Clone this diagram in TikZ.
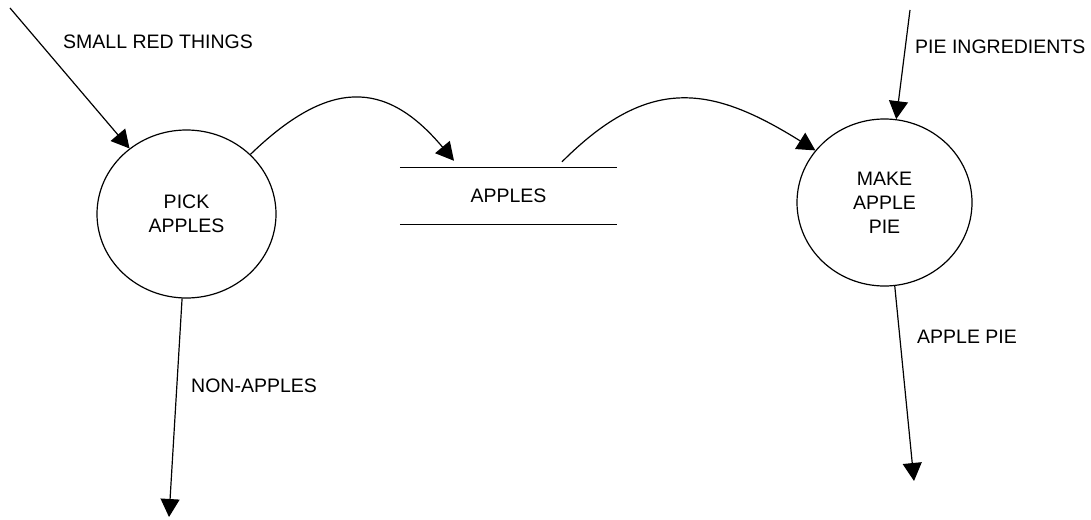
\documentclass[tikz,border=0pt]{standalone}
\usepackage{fontspec}
\setmainfont{Liberation Sans}
\usetikzlibrary{arrows.meta,shapes.geometric}
\tikzset{
  >={Triangle[length=18pt,width=19pt]},
  txt/.style={font=\fontsize{19.5}{24}\selectfont},
  process/.style={draw, ellipse, line width=1.2pt, inner sep=0pt, align=center, txt},
  store/.style={minimum width=217pt, minimum height=56pt, inner sep=0pt, txt},
  lbl/.style={anchor=west, inner sep=0pt, txt},
  flow/.style={->, line width=1.2pt},
}

\begin{document}
\begin{tikzpicture}[x=1pt,y=-1pt]
  \useasboundingbox (0,0) rectangle (1091,519);
  % processes and the store
  \node[process, minimum width=179pt, minimum height=168pt] (pick) at (186.5,214) {PICK\\APPLES};
  \node[process, minimum width=175pt, minimum height=167pt] (make) at (884.5,202.5) {MAKE\\APPLE\\PIE};
  \node[store] (apples) at (508.5,196) {APPLES};
  \draw[line width=1.2pt] (apples.north west) -- (apples.north east)
                          (apples.south west) -- (apples.south east);
  % free ends of the flows
  \coordinate (srcRed)  at (10,8);
  \coordinate (srcIngr) at (910,10);
  \coordinate (sinkNon) at (169,517);
  \coordinate (sinkPie) at (914,481);
  \coordinate (inApples)  at ([xshift=-54.5pt,yshift=7pt]apples.north);
  \coordinate (outApples) at ([xshift=53.5pt,yshift=6pt]apples.north);
  % flows
  \draw[flow] (srcRed) -- (pick.131);
  \draw[flow] (srcIngr) -- (make.82);
  \draw[flow] (pick.267) -- (sinkNon);
  \draw[flow] (make.277) -- (sinkPie);
  \draw[flow] (pick.43) to[out=44, in=130, looseness=1.35] (inApples);
  \draw[flow] (outApples) to[out=45, in=148, looseness=1.24] (make.143);
  % flow labels
  \node[lbl] (lblRed)  at (63,42)   {SMALL RED THINGS};
  \node[lbl] (lblIngr) at (915,47)  {PIE INGREDIENTS};
  \node[lbl] (lblNon)  at (191,386) {NON-APPLES};
  \node[lbl] (lblPie)  at (917,337) {APPLE PIE};
\end{tikzpicture}
\end{document}
